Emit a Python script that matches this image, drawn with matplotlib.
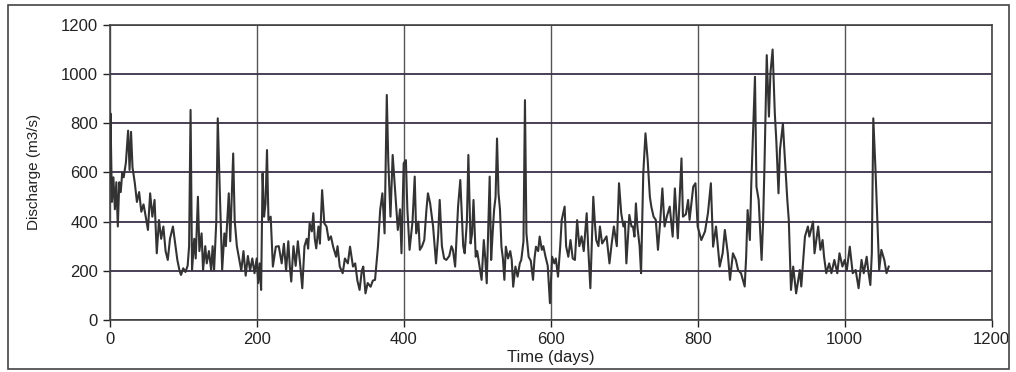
import matplotlib.pyplot as plt

# discharge series (day, m3/s)
days = [0, 1, 3, 5, 7, 9, 11, 13, 15, 17, 19, 22, 25, 27, 29, 31, 34, 37, 40, 43,
        46, 49, 52, 55, 58, 61, 64, 67, 70, 73, 76, 79, 82, 86, 89, 92, 95, 97, 100, 103,
        106, 108, 110, 112, 115, 117, 120, 122, 125, 127, 130, 132, 135, 138, 140, 142, 145, 147, 150, 153,
        156, 158, 162, 164, 168, 170, 173, 176, 179, 182, 185, 188, 191, 194, 197, 200, 202, 204, 206, 208,
        210, 212, 214, 216, 219, 222, 226, 230, 234, 237, 240, 243, 245, 247, 250, 253, 256, 259, 262, 265,
        268, 270, 272, 275, 277, 279, 281, 284, 286, 289, 292, 295, 298, 301, 304, 308, 310, 313, 317, 320,
        324, 327, 331, 334, 337, 340, 343, 345, 348, 351, 355, 358, 361, 365, 368, 371, 374, 377, 379, 382,
        385, 388, 392, 395, 397, 400, 403, 405, 408, 412, 415, 417, 420, 422, 425, 428, 431, 433, 436, 440,
        444, 447, 449, 452, 455, 458, 462, 465, 467, 470, 474, 477, 481, 483, 486, 488, 491, 493, 495, 498,
        500, 503, 506, 509, 511, 513, 517, 519, 521, 523, 525, 527, 529, 531, 533, 535, 537, 539, 542, 545,
        547, 549, 552, 555, 558, 560, 563, 565, 567, 570, 573, 576, 578, 580, 583, 585, 588, 590, 593, 596,
        599, 602, 605, 607, 610, 613, 615, 619, 621, 624, 627, 630, 633, 636, 639, 642, 645, 649, 651, 654,
        658, 660, 662, 665, 667, 670, 672, 676, 680, 683, 686, 688, 690, 693, 696, 699, 701, 703, 707, 710,
        712, 714, 716, 718, 721, 723, 726, 729, 732, 735, 737, 740, 743, 746, 749, 752, 755, 758, 762, 766,
        769, 773, 778, 780, 784, 787, 789, 794, 797, 800, 805, 810, 814, 818, 821, 825, 830, 834, 837, 841,
        844, 848, 852, 855, 859, 864, 866, 868, 871, 873, 875, 878, 880, 883, 887, 889, 891, 894, 897, 899,
        902, 905, 907, 910, 912, 916, 918, 922, 924, 927, 930, 934, 939, 941, 946, 950, 952, 957, 959, 964,
        967, 970, 972, 975, 979, 982, 986, 990, 993, 997, 1000, 1003, 1007, 1011, 1015, 1019, 1023, 1026, 1030, 1032,
        1035, 1037, 1039, 1042, 1047, 1050, 1054, 1057, 1060]
discharge = [560, 840, 480, 580, 450, 560, 380, 560, 520, 600, 580, 640, 770, 610, 765, 620, 560, 480, 520, 440,
             470, 420, 366, 515, 420, 488, 271, 406, 330, 380, 280, 244, 330, 380, 311, 244, 200, 183, 210, 195,
             220, 300, 854, 203, 330, 250, 501, 280, 352, 203, 300, 230, 280, 203, 300, 203, 400, 820, 500, 203,
             352, 300, 515, 320, 677, 406, 300, 250, 200, 280, 180, 260, 200, 250, 190, 250, 150, 230, 122, 596,
             420, 474, 691, 406, 420, 217, 298, 300, 230, 310, 200, 320, 220, 156, 300, 220, 320, 230, 129, 300,
             330, 290, 393, 360, 434, 330, 291, 380, 310, 528, 393, 380, 325, 340, 298, 257, 300, 217, 190, 250,
             230, 298, 217, 230, 160, 122, 200, 217, 108, 150, 135, 160, 163, 298, 447, 515, 352, 915, 650, 420,
             671, 542, 366, 450, 271, 637, 650, 450, 285, 400, 583, 352, 400, 285, 300, 325, 450, 515, 474, 380,
             230, 350, 488, 300, 250, 244, 260, 300, 285, 217, 461, 569, 300, 271, 400, 671, 311, 350, 488, 257,
             280, 220, 163, 325, 250, 149, 583, 244, 350, 447, 500, 738, 515, 450, 298, 250, 163, 298, 250, 280,
             244, 135, 217, 176, 230, 244, 320, 894, 352, 257, 240, 163, 250, 298, 280, 339, 285, 300, 257, 220,
             68, 257, 230, 250, 176, 300, 406, 461, 300, 257, 325, 250, 244, 406, 300, 340, 280, 434, 300, 129,
             501, 400, 325, 300, 380, 311, 320, 340, 230, 310, 380, 340, 300, 556, 434, 380, 400, 230, 427, 380,
             380, 339, 474, 380, 300, 190, 596, 759, 650, 500, 460, 420, 407, 285, 400, 535, 380, 420, 461, 339,
             535, 332, 657, 420, 430, 488, 407, 542, 556, 380, 325, 360, 434, 556, 298, 380, 217, 271, 366, 271,
             163, 271, 244, 203, 190, 136, 257, 447, 325, 556, 732, 989, 542, 488, 244, 393, 637, 1077, 827, 1003,
             1100, 840, 732, 515, 691, 799, 691, 488, 407, 122, 217, 108, 203, 136, 339, 380, 339, 400, 271, 380,
             285, 325, 257, 190, 230, 190, 244, 190, 271, 217, 244, 203, 298, 190, 203, 129, 244, 190, 257, 203,
             142, 271, 820, 610, 203, 285, 244, 190, 217]

x_ticks = [0, 200, 400, 600, 800, 1000, 1200]
y_ticks = [0, 200, 400, 600, 800, 1000, 1200]

plt.rcParams['font.family'] = ['Liberation Sans', 'DejaVu Sans']

fig = plt.figure(figsize=(10.16, 3.72), dpi=100)
ax = fig.add_axes([0.108, 0.140, 0.868, 0.793])

ax.plot(days, discharge, color="#333333", linewidth=1.5, zorder=3)

ax.set_xlim(0, 1200)
ax.set_ylim(0, 1200)
ax.set_xticks(x_ticks)
ax.set_yticks(y_ticks)
ax.grid(axis="y", color="#3a2f4a", linewidth=1.3)
ax.grid(axis="x", color="#555555", linewidth=1.0)
ax.tick_params(colors="#222222", labelsize=12, length=5, width=1)
for s in ax.spines.values():
    s.set_color("#444444")
    s.set_linewidth(1.2)

ax.set_xlabel("Time (days)", fontsize=12, color="#222222", labelpad=2)
ax.set_ylabel("Discharge (m3/s)", fontsize=11, color="#222222", labelpad=14)

# outer frame round the whole chart
fig.patches.append(plt.Rectangle((0.008, 0.008), 0.985, 0.978, transform=fig.transFigure,
                                 fill=False, edgecolor="#444444", linewidth=1.2))

fig.savefig("out.png", dpi=100)
